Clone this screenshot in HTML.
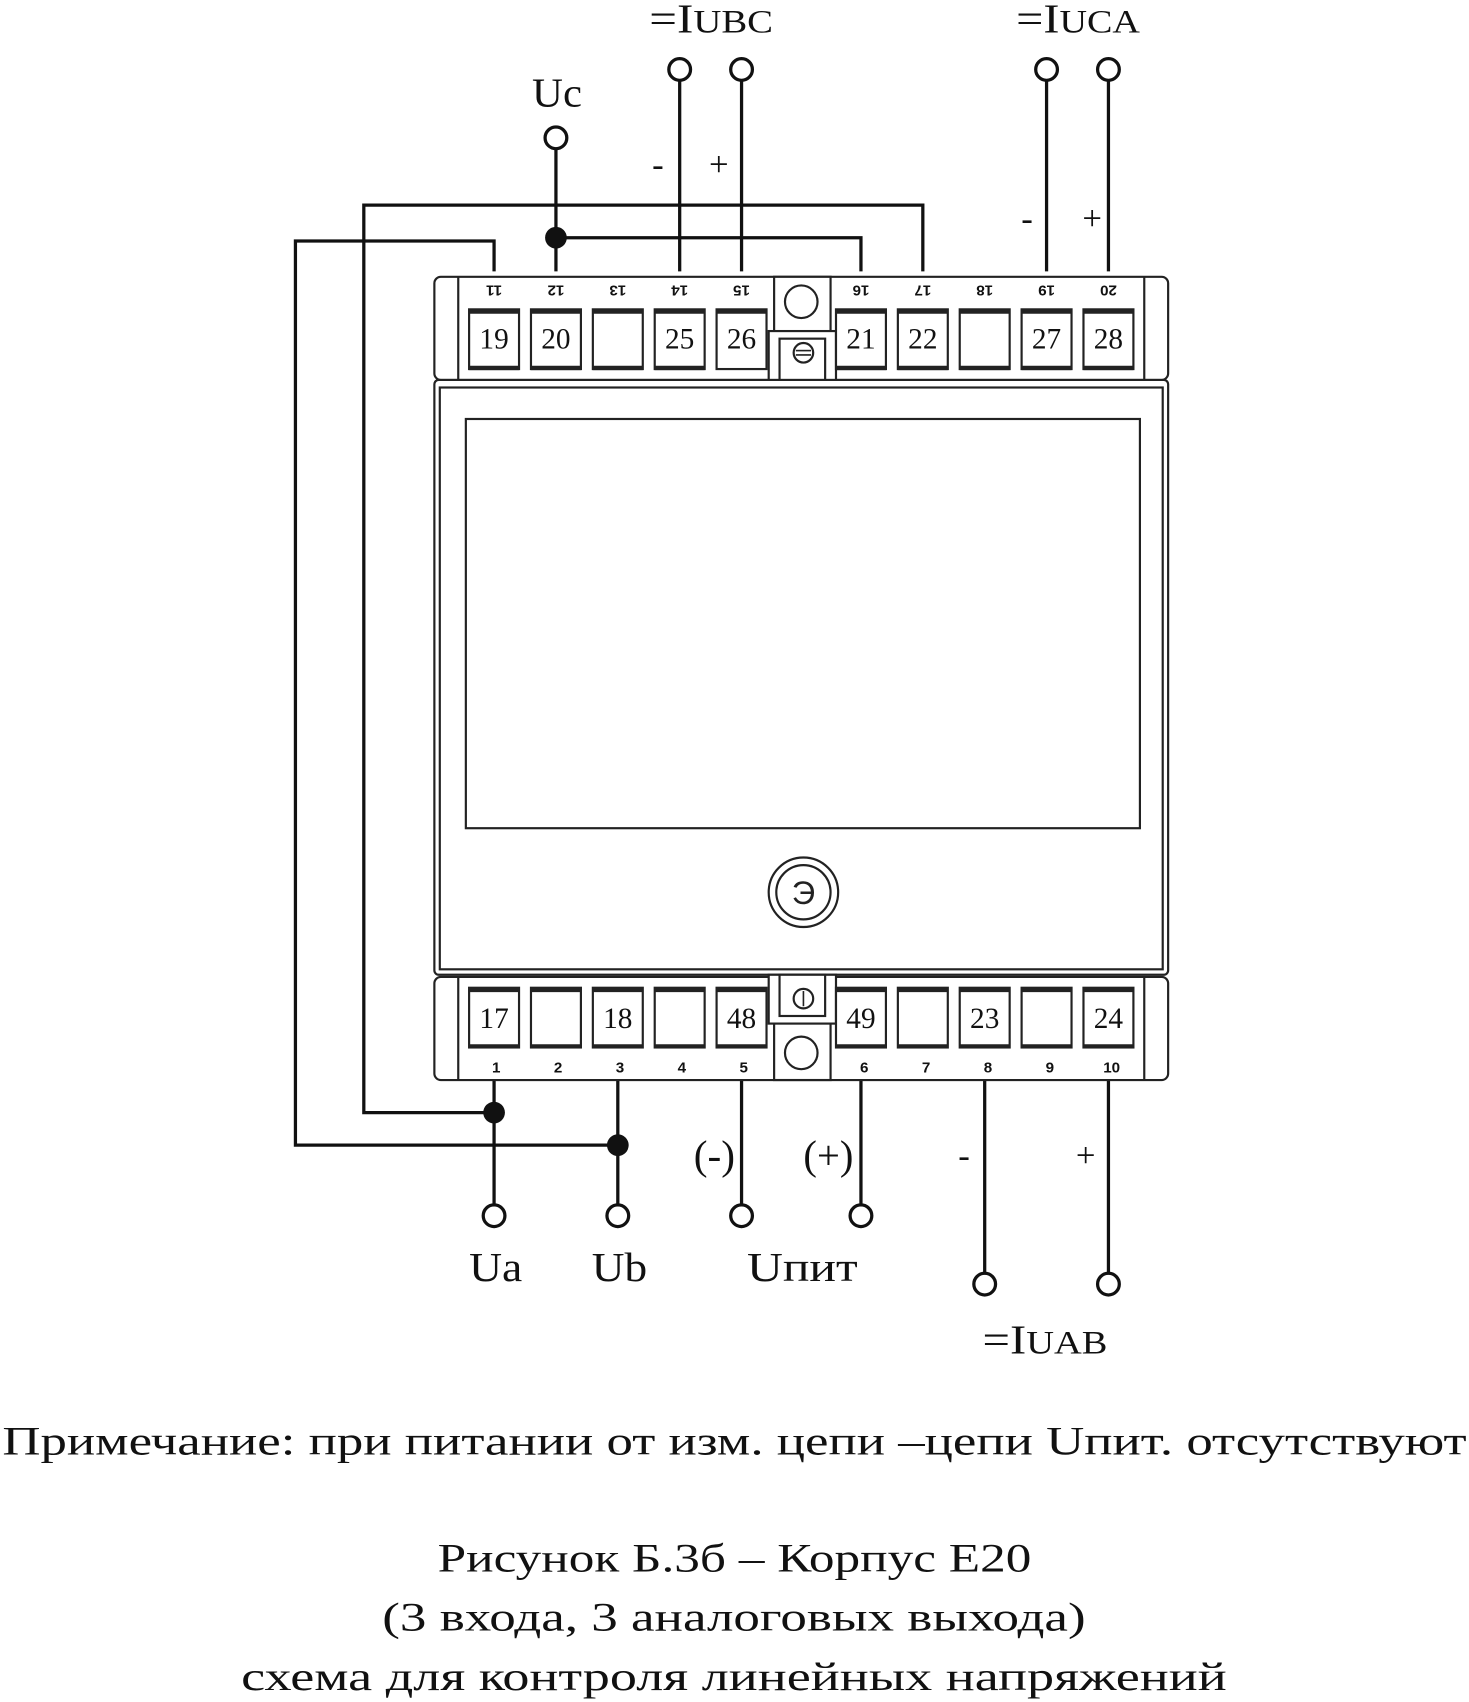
<!DOCTYPE html>
<html><head><meta charset="utf-8"><style>html,body{margin:0;padding:0;background:#fff}svg{display:block}</style></head><body>
<svg width="1469" height="1702" viewBox="0 0 1353 1568" xmlns="http://www.w3.org/2000/svg" font-family="Liberation Serif, serif">
<g fill="none" stroke="#111" stroke-width="3">
<polyline points="455,250 455,222 272,222 272,1055 569,1055"/>
<polyline points="512,250 512,137"/>
<polyline points="512,219 793,219 793,250"/>
<polyline points="850,250 850,189 335,189 335,1025 455,1025"/>
<line x1="626" y1="250" x2="626" y2="74"/>
<line x1="683" y1="250" x2="683" y2="74"/>
<line x1="964" y1="250" x2="964" y2="74"/>
<line x1="1021" y1="250" x2="1021" y2="74"/>
<line x1="455" y1="995" x2="455" y2="1110"/>
<line x1="569" y1="995" x2="569" y2="1110"/>
<line x1="683" y1="995" x2="683" y2="1110"/>
<line x1="793" y1="995" x2="793" y2="1110"/>
<line x1="907" y1="995" x2="907" y2="1173"/>
<line x1="1021" y1="995" x2="1021" y2="1173"/>
</g>
<g fill="#fff" stroke="#111" stroke-width="3">
<circle cx="512" cy="127" r="10"/>
<circle cx="626" cy="64" r="10"/><circle cx="683" cy="64" r="10"/>
<circle cx="964" cy="64" r="10"/><circle cx="1021" cy="64" r="10"/>
<circle cx="455" cy="1120" r="10"/><circle cx="569" cy="1120" r="10"/>
<circle cx="683" cy="1120" r="10"/><circle cx="793" cy="1120" r="10"/>
<circle cx="907" cy="1183" r="10"/><circle cx="1021" cy="1183" r="10"/>
</g>
<g fill="#111"><circle cx="512" cy="219" r="10"/><circle cx="455" cy="1025" r="10"/><circle cx="569" cy="1055" r="10"/></g>

<g fill="#fff" stroke="#222" stroke-width="2">
<rect x="400" y="255" width="676" height="95" rx="6"/>
<line x1="422" y1="255" x2="422" y2="350"/><line x1="1054" y1="255" x2="1054" y2="350"/>
<rect x="400" y="900" width="676" height="95" rx="6"/>
<line x1="422" y1="900" x2="422" y2="995"/><line x1="1054" y1="900" x2="1054" y2="995"/>
<rect x="400" y="350" width="676" height="548" rx="4"/>
<rect x="405" y="357" width="666" height="536"/>
<rect x="429" y="386" width="621" height="377"/>
<rect x="713" y="255" width="52" height="95"/>
<circle cx="738" cy="278" r="15"/>
<rect x="708" y="305" width="62" height="45"/>
<rect x="718" y="312" width="42" height="38"/>
<circle cx="740" cy="325" r="9"/>
<rect x="713" y="900" width="52" height="95"/>
<circle cx="738" cy="970" r="15"/>
<rect x="708" y="898" width="62" height="45"/>
<rect x="718" y="898" width="42" height="38"/>
<circle cx="740" cy="920" r="9"/>
<circle cx="740" cy="822" r="32"/>
<circle cx="740" cy="822" r="25"/>
</g>
<text x="740" y="833" text-anchor="middle" font-size="30" font-family="Liberation Sans, sans-serif" fill="#222">Э</text>
<g stroke="#222" stroke-width="1.5"><line x1="733" y1="323" x2="747" y2="323"/><line x1="733" y1="327" x2="747" y2="327"/><line x1="740" y1="913" x2="740" y2="927"/></g>

<g fill="#fff" stroke="#222" stroke-width="2">
<rect x="432" y="285" width="46" height="55"/><rect x="489" y="285" width="46" height="55"/><rect x="546" y="285" width="46" height="55"/><rect x="603" y="285" width="46" height="55"/><rect x="660" y="285" width="46" height="55"/>
<rect x="770" y="285" width="46" height="55"/><rect x="827" y="285" width="46" height="55"/><rect x="884" y="285" width="46" height="55"/><rect x="941" y="285" width="46" height="55"/><rect x="998" y="285" width="46" height="55"/>
<rect x="432" y="910" width="46" height="55"/><rect x="489" y="910" width="46" height="55"/><rect x="546" y="910" width="46" height="55"/><rect x="603" y="910" width="46" height="55"/><rect x="660" y="910" width="46" height="55"/>
<rect x="770" y="910" width="46" height="55"/><rect x="827" y="910" width="46" height="55"/><rect x="884" y="910" width="46" height="55"/><rect x="941" y="910" width="46" height="55"/><rect x="998" y="910" width="46" height="55"/>
</g>
<g stroke="#222" stroke-width="4">
<path d="M432 287h46M489 287h46M546 287h46M603 287h46M660 287h46M770 287h46M827 287h46M884 287h46M941 287h46M998 287h46"/>
<path d="M432 339h46M489 339h46M546 339h46M603 339h46M770 339h46M827 339h46M884 339h46M941 339h46M998 339h46"/>
<path d="M432 912h46M489 912h46M546 912h46M603 912h46M660 912h46M770 912h46M827 912h46M884 912h46M941 912h46M998 912h46"/>
<path d="M432 964h46M489 964h46M546 964h46M603 964h46M660 964h46M770 964h46M827 964h46M884 964h46M941 964h46M998 964h46"/>
</g>
<g font-size="27" text-anchor="middle" fill="#111">
<text x="455" y="321">19</text><text x="512" y="321">20</text><text x="626" y="321">25</text><text x="683" y="321">26</text>
<text x="793" y="321">21</text><text x="850" y="321">22</text><text x="964" y="321">27</text><text x="1021" y="321">28</text>
<text x="455" y="947">17</text><text x="569" y="947">18</text><text x="683" y="947">48</text><text x="793" y="947">49</text><text x="907" y="947">23</text><text x="1021" y="947">24</text>
</g>
<g font-size="14" font-weight="bold" font-family="Liberation Sans, sans-serif" text-anchor="middle" fill="#111">
<text transform="translate(455,263) rotate(180)">11</text><text transform="translate(512,263) rotate(180)">12</text><text transform="translate(569,263) rotate(180)">13</text><text transform="translate(626,263) rotate(180)">14</text><text transform="translate(683,263) rotate(180)">15</text>
<text transform="translate(793,263) rotate(180)">16</text><text transform="translate(850,263) rotate(180)">17</text><text transform="translate(907,263) rotate(180)">18</text><text transform="translate(964,263) rotate(180)">19</text><text transform="translate(1021,263) rotate(180)">20</text>
<text x="457" y="988">1</text><text x="514" y="988">2</text><text x="571" y="988">3</text><text x="628" y="988">4</text><text x="685" y="988">5</text>
<text x="796" y="988">6</text><text x="853" y="988">7</text><text x="910" y="988">8</text><text x="967" y="988">9</text><text x="1024" y="988">10</text>
</g>

<g font-size="38" fill="#111">
<text x="490" y="98" textLength="46" lengthAdjust="spacingAndGlyphs">Uc</text>
<text x="598" y="30" textLength="114" lengthAdjust="spacingAndGlyphs">=I<tspan font-size="30">UBC</tspan></text>
<text x="936" y="30" textLength="114" lengthAdjust="spacingAndGlyphs">=I<tspan font-size="30">UCA</tspan></text>
<text x="606" y="162" font-size="32" text-anchor="middle">-</text><text x="662" y="162" font-size="32" text-anchor="middle">+</text>
<text x="946" y="212" font-size="32" text-anchor="middle">-</text><text x="1006" y="212" font-size="32" text-anchor="middle">+</text>
<text x="432" y="1180" textLength="49" lengthAdjust="spacingAndGlyphs">Ua</text>
<text x="545" y="1180" textLength="51" lengthAdjust="spacingAndGlyphs">Ub</text>
<text x="688" y="1180" textLength="102" lengthAdjust="spacingAndGlyphs">Uпит</text>
<text x="639" y="1077" textLength="38" lengthAdjust="spacingAndGlyphs">(-)</text>
<text x="740" y="1077" textLength="46" lengthAdjust="spacingAndGlyphs">(+)</text>
<text x="888" y="1075" font-size="32" text-anchor="middle">-</text><text x="1000" y="1075" font-size="32" text-anchor="middle">+</text>
<text x="905" y="1247" textLength="115" lengthAdjust="spacingAndGlyphs">=I<tspan font-size="30">UAB</tspan></text>
<text x="2" y="1340" font-size="37" textLength="1349" lengthAdjust="spacingAndGlyphs">Примечание: при питании от изм. цепи –цепи Uпит. отсутствуют</text>
<text x="403" y="1448" font-size="37" textLength="547" lengthAdjust="spacingAndGlyphs">Рисунок Б.3б – Корпус Е20</text>
<text x="352" y="1502" font-size="37" textLength="648" lengthAdjust="spacingAndGlyphs">(3 входа, 3 аналоговых выхода)</text>
<text x="222" y="1557" font-size="37" textLength="908" lengthAdjust="spacingAndGlyphs">схема для контроля линейных напряжений</text>
</g>
</svg>
</body></html>
